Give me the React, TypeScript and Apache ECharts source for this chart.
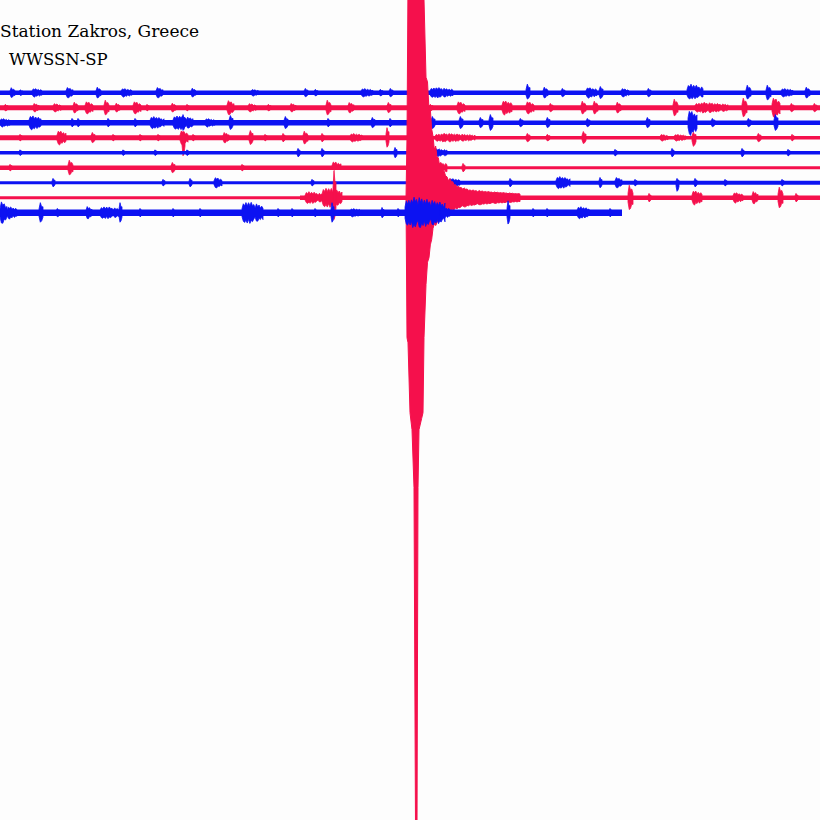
import React, { useEffect, useRef } from "react";
import * as echarts from "echarts";

// Helicorder: each line covers 820 s; trace offset 150 counts between lines
const LINE_SECONDS = 820;
const TRACE_GAP = 150;
const TRACE_COLORS = ["#0c12f2", "#f5104c"];

// Background noise level per trace: [start s, end s, band thickness]
const noise1 = [[0, 820, 4.5]];
const noise2 = [[0, 820, 5]];
const noise3 = [[0, 410, 5.5], [410, 820, 4.5]];
const noise4 = [[0, 410, 5], [410, 820, 3.5]];
const noise5 = [[0, 820, 3.5]];
const noise6 = [[0, 410, 4.5], [410, 820, 3]];
const noise7 = [[0, 440, 3], [440, 820, 4]];
const noise8 = [[0, 300, 3], [300, 820, 4.5]];
const noise9 = [[0, 622, 6.5]];
const NOISE = [noise1, noise2, noise3, noise4, noise5, noise6, noise7, noise8, noise9];

// Bursts per trace: [start s, up amplitude, down amplitude, duration s]
const trace1 = [[10,50,50,5],[19,30,30,4],[32,45,45,10],[66,55,55,7],[96,55,55,5],[121,45,45,11],[156,55,55,7],[191,45,45,5],[251,35,35,8],[304,45,45,4],[314,35,35,4],[361,45,45,12],[379,35,35,4],[389,45,45,4],[430,55,55,23],[526,90,70,4],[543,55,55,5],[561,45,45,4],[586,55,55,11],[599,65,65,4],[621,45,45,8],[647,45,45,4],[687,90,70,16],[746,75,65,5],[766,75,75,5],[781,45,45,12],[805,55,55,5]];
const trace2 = [[4,35,35,4],[33,45,45,6],[53,45,45,8],[73,55,55,5],[85,65,65,8],[104,75,75,5],[115,45,45,5],[133,65,65,8],[146,35,35,3],[171,45,45,5],[186,35,35,3],[227,75,75,7],[248,45,45,8],[267,35,35,4],[290,45,45,6],[326,75,75,5],[348,55,55,6],[387,55,55,4],[429,35,35,4],[457,65,65,8],[502,75,75,10],[526,65,65,8],[549,45,45,4],[581,65,65,5],[593,65,65,5],[616,55,55,5],[673,85,85,5],[695,55,55,33],[742,95,95,5],[772,105,105,8],[790,45,45,4],[813,45,45,4]];
const trace3 = [[0,45,45,10],[29,75,75,12],[71,45,45,3],[77,45,45,3],[107,45,45,3],[134,45,45,3],[150,65,65,14],[173,75,75,20],[182,85,85,3],[205,45,45,10],[229,75,75,4],[284,65,65,4],[327,45,45,3],[371,55,55,4],[389,45,45,3],[431,65,65,4],[459,65,65,4],[479,55,55,4],[489,85,85,4],[519,45,45,4],[546,55,55,4],[586,45,45,4],[646,55,55,4],[688,130,130,9],[711,45,45,4],[747,45,45,4],[774,85,85,4]];
const trace4 = [[19,35,35,3],[57,75,75,9],[91,55,55,4],[112,35,35,3],[139,35,35,3],[157,35,35,3],[180,75,75,8],[182,65,200,3],[192,35,35,3],[223,55,55,6],[249,75,75,4],[264,35,35,3],[282,45,45,3],[303,65,65,5],[321,45,45,3],[350,45,45,13],[386,105,105,3],[435,45,45,40],[526,45,45,4],[546,35,35,4],[582,65,65,4],[660,35,35,8],[674,35,35,12],[692,55,95,4],[757,45,45,4],[791,35,35,3]];
const trace5 = [[19,30,30,3],[122,30,30,3],[154,30,30,3],[186,30,30,3],[297,45,45,3],[321,45,45,3],[394,55,55,3],[430,45,45,17],[614,35,35,3],[671,45,45,3],[741,45,45,3],[787,35,35,3]];
const trace6 = [[9,35,35,3],[68,75,75,5],[171,55,55,4],[241,35,35,3],[332,65,25,9],[432,65,65,15],[462,45,45,3]];
const trace7 = [[52,45,45,3],[162,35,35,3],[189,45,45,3],[214,55,55,8],[311,35,35,3],[449,45,45,11],[509,45,45,3],[556,65,65,14],[599,55,55,3],[615,55,55,7],[634,35,35,3],[676,45,95,3],[694,45,45,3],[724,35,35,3],[781,35,35,3]];
const trace8 = [[305,65,65,17],[322,105,105,20],[333,280,240,3],[628,125,125,5],[648,45,45,3],[692,75,75,10],[733,55,55,10],[752,65,65,6],[778,105,105,5],[795,45,45,3]];
const trace9 = [[0,115,115,7],[7,65,65,10],[39,105,105,4],[56,45,45,4],[86,65,65,6],[100,65,65,20],[119,105,105,3],[139,45,45,3],[172,45,45,3],[199,45,45,3],[242,115,115,21],[277,45,45,3],[291,45,45,3],[314,45,45,3],[331,105,105,3],[350,45,45,12],[381,55,55,3],[397,45,45,3],[405,160,160,40],[440,65,65,10],[507,125,125,3],[532,45,45,3],[546,45,45,3],[577,65,65,13],[609,45,45,3]];
const TRACES = [trace1, trace2, trace3, trace4, trace5, trace6, trace7, trace8, trace9];

// Main earthquake on trace 8: envelope (counts above / below its baseline)
const QUAKE_TRACE = 7;
const quakeT = [406, 407, 408, 410, 412, 414, 415.5, 417, 418, 419, 423, 424, 426, 429, 433, 437, 441, 447, 457, 470, 490, 520];
const quakeUp = [0, 600, 2150, 2150, 2150, 2150, 2150, 2150, 2150, 2150, 2150, 1980, 1400, 1000, 650, 450, 320, 220, 120, 80, 60, 40];
const quakeDown = [0, 1400, 1450, 2150, 2320, 2900, 6300, 6300, 2900, 2320, 2150, 1400, 900, 600, 350, 250, 200, 160, 110, 80, 60, 40];

const TITLE = "Station Zakros, Greece";
const SUBTITLE = "WWSSN-SP";

// drawing texture (shape only, not data)
const JIT_UP = [0.5, 1, 0.7, 0.95, 0.6, 0.9, 0.65, 1, 0.7, 0.85];
const JIT_DN = [0.5, 0.95, 1, 0.7, 0.9, 0.6, 1, 0.75, 0.9, 0.65];
const env = (f: number) => (f < 0.25 ? 0.7 + (0.3 * f) / 0.25 : 1 - (0.4 * (f - 0.25)) / 0.75);

export default function App() {
  const ref = useRef<HTMLDivElement>(null);
  useEffect(() => {
    if (!ref.current) return;
    const chart = echarts.init(ref.current, undefined, { renderer: "svg" });
    const series: any[] = [];
    TRACES.forEach((bursts, k) => {
      const color = TRACE_COLORS[k % 2];
      const z = k === 8 ? 5 : 1;
      series.push({
        type: "custom",
        z,
        clip: true,
        data: NOISE[k].map((s) => [k, s[0], s[1], s[2]]),
        renderItem: (params: any, api: any) => {
          const b = api.value(0) * TRACE_GAP;
          const p0 = api.coord([api.value(1), b]);
          const p1 = api.coord([api.value(2), b]);
          const h = api.value(3);
          return {
            type: "rect",
            shape: { x: p0[0], y: p0[1] - h / 2, width: p1[0] - p0[0], height: h },
            style: { fill: color },
          };
        },
      });
      series.push({
        type: "custom",
        z,
        clip: true,
        data: bursts.map((b) => [k, b[0], b[1], b[2], b[3]]),
        renderItem: (params: any, api: any) => {
          const kk = api.value(0);
          const t = api.value(1);
          const up = api.value(2);
          const dn = api.value(3);
          const w = api.value(4);
          const b = kk * TRACE_GAP;
          const wpx = api.size([w, 0])[0];
          const n = Math.max(3, Math.round(wpx / 1.3)) + 1;
          const top: number[][] = [];
          const bot: number[][] = [];
          for (let i = 0; i < n; i++) {
            const f = i / (n - 1);
            const e = env(f);
            top.push(api.coord([t + w * f, b - up * e * JIT_UP[i % JIT_UP.length]]));
            bot.push(api.coord([t + w * f, b + dn * e * JIT_DN[i % JIT_DN.length]]));
          }
          return {
            type: "polygon",
            shape: { points: top.concat(bot.reverse()) },
            style: { fill: color, stroke: color, lineWidth: 0.8 },
          };
        },
      });
      if (k === QUAKE_TRACE) {
        series.push({
          type: "custom",
          z: 2,
          clip: true,
          data: [[QUAKE_TRACE]],
          renderItem: (params: any, api: any) => {
            const b = QUAKE_TRACE * TRACE_GAP;
            const top: number[][] = [];
            const bot: number[][] = [];
            let j = 0;
            for (let i = 0; i < quakeT.length; i++) {
              const last = i === quakeT.length - 1;
              const steps = last ? 1 : Math.max(1, Math.round(api.size([quakeT[i + 1] - quakeT[i], 0])[0] / 1.5));
              for (let s = 0; s < steps; s++) {
                const f = s / steps;
                const t = last ? quakeT[i] : quakeT[i] + f * (quakeT[i + 1] - quakeT[i]);
                const u = last ? quakeUp[i] : quakeUp[i] + f * (quakeUp[i + 1] - quakeUp[i]);
                const d = last ? quakeDown[i] : quakeDown[i] + f * (quakeDown[i + 1] - quakeDown[i]);
                const ragged = t > 424;
                const ju = ragged ? 0.65 + 0.35 * JIT_UP[j % JIT_UP.length] : 1;
                const jd = ragged ? 0.65 + 0.35 * JIT_DN[j % JIT_DN.length] : 1;
                top.push(api.coord([t, b - u * ju]));
                bot.push(api.coord([t, b + d * jd]));
                j++;
              }
            }
            return {
              type: "polygon",
              shape: { points: top.concat(bot.reverse()) },
              style: { fill: TRACE_COLORS[1], stroke: TRACE_COLORS[1], lineWidth: 1 },
            };
          },
        });
      }
    });

    chart.setOption({
      animation: false,
      backgroundColor: "#fdfdfd",
      grid: { left: 0, right: 0, top: 0, bottom: 0 },
      xAxis: { type: "value", min: 0, max: LINE_SECONDS, show: false },
      yAxis: { type: "value", inverse: true, min: -927, max: 7273, show: false },
      graphic: [
        {
          type: "text",
          left: 0,
          top: 22,
          style: { text: TITLE, font: "17px 'DejaVu Serif'", fill: "#000" },
        },
        {
          type: "text",
          left: 9,
          top: 51,
          style: { text: SUBTITLE, font: "16.5px 'DejaVu Serif'", fill: "#000" },
        },
      ],
      series,
    });
    return () => chart.dispose();
  }, []);
  return <div ref={ref} style={{ position: "absolute", left: 0, top: 0, width: 820, height: 820 }} />;
}
